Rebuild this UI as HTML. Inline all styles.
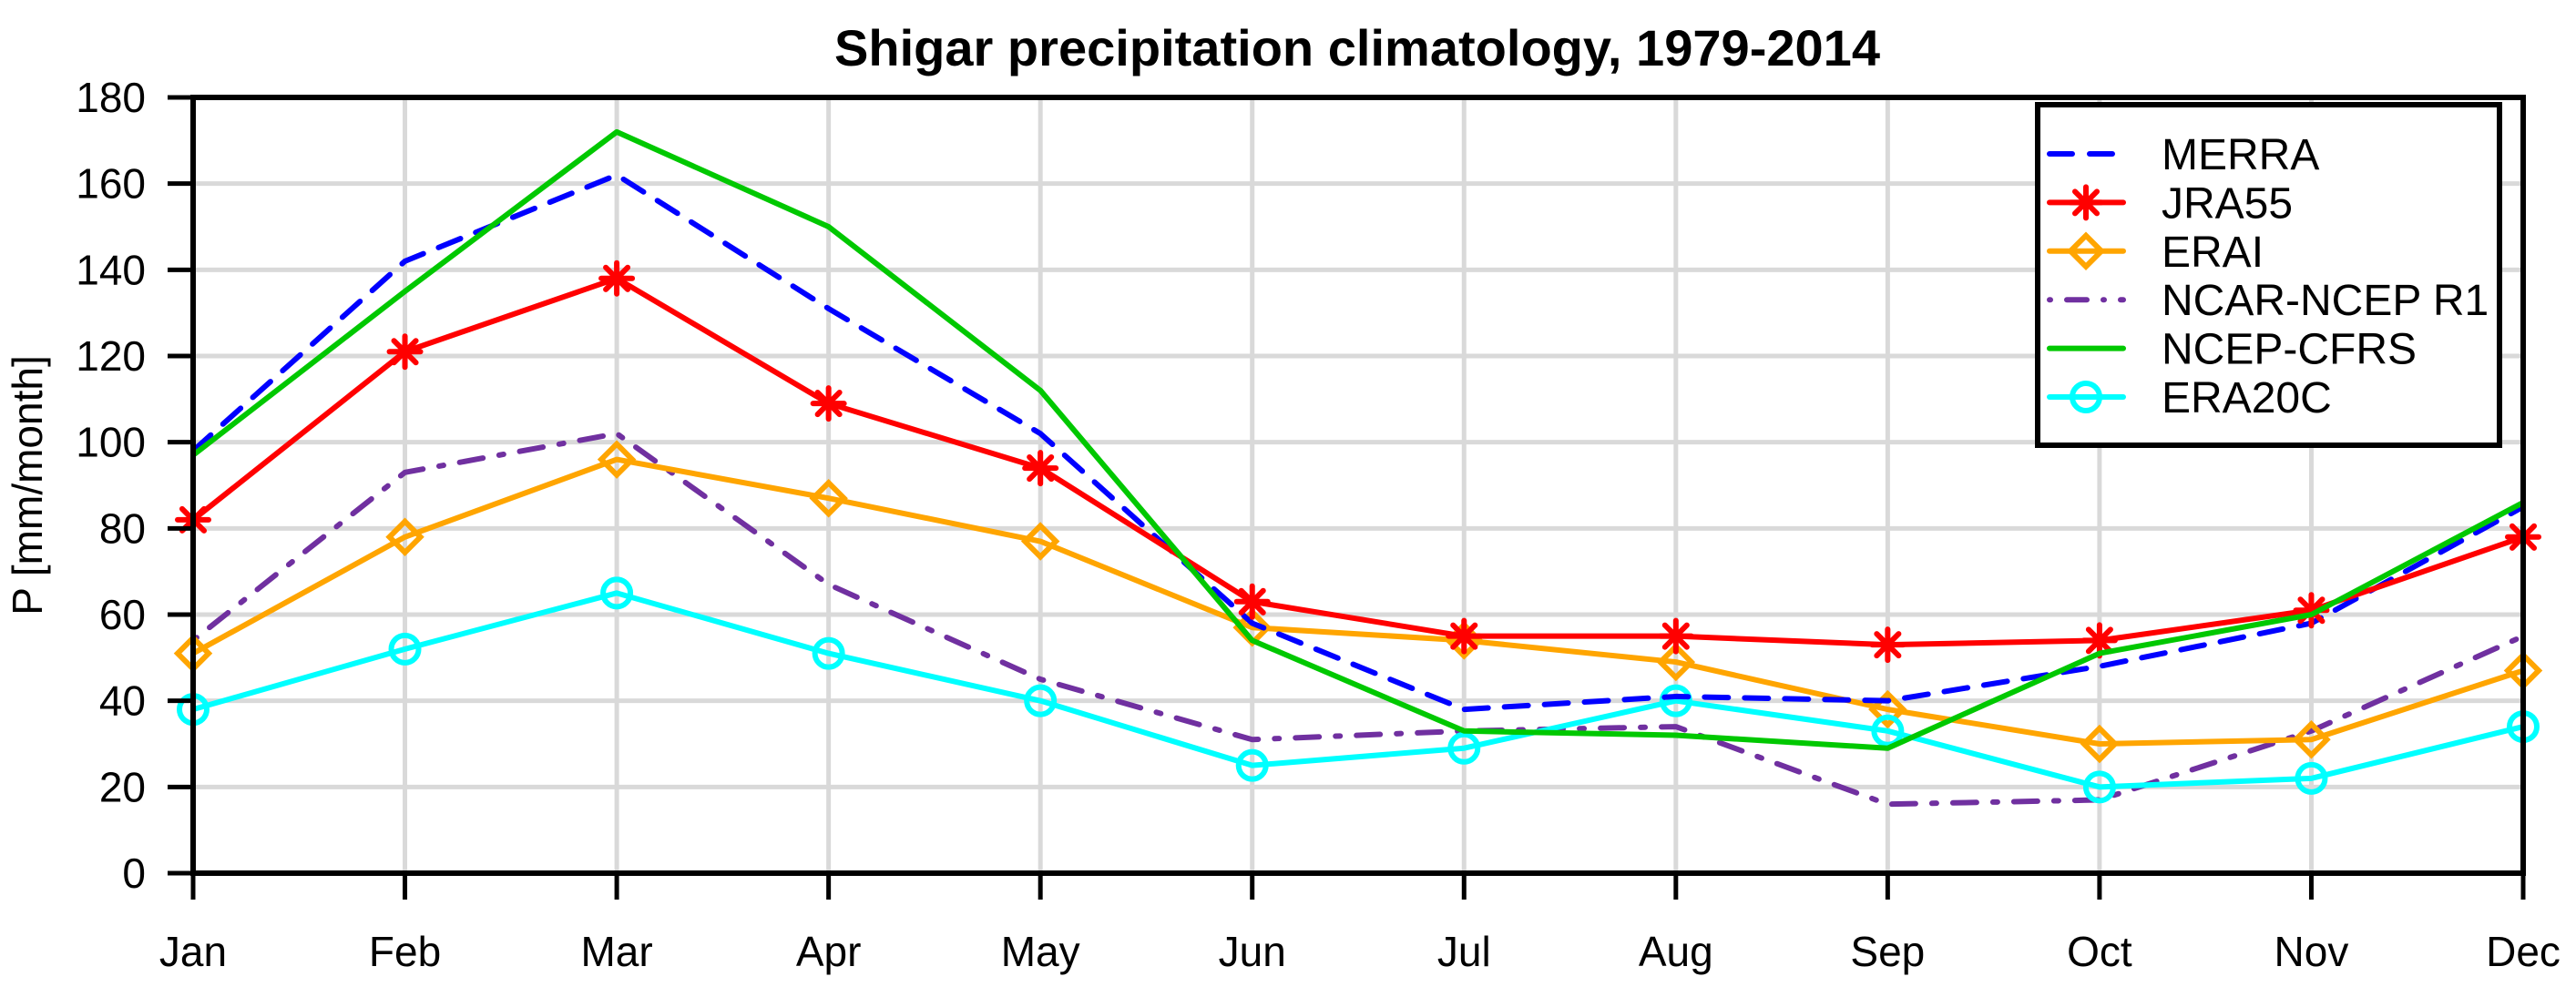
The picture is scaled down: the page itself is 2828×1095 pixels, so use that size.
<!DOCTYPE html>
<html><head><meta charset="utf-8"><style>
html,body{margin:0;padding:0;background:#fff;}
svg{display:block;font-family:"Liberation Sans",Arial,sans-serif;}
</style></head><body>
<svg id="chart" width="2828" height="1095" viewBox="0 0 2828 1095" xmlns="http://www.w3.org/2000/svg">
<rect width="2828" height="1095" fill="#fff"/>
<text x="916" y="72" font-size="56" font-weight="bold" textLength="1148" lengthAdjust="spacingAndGlyphs">Shigar precipitation climatology, 1979-2014</text>
<text transform="translate(46,533) rotate(-90)" text-anchor="middle" font-size="46">P [mm/month]</text>
<g id="grid"></g><g id="series"></g><g id="axes"></g><g id="legend"></g>
</svg>
<script>
const months = ["Jan","Feb","Mar","Apr","May","Jun","Jul","Aug","Sep","Oct","Nov","Dec"];
const yTicks = [0,20,40,60,80,100,120,140,160,180];
const merra  = [98,142,162,131,102,58,38,41,40,48,58,85];
const jra55  = [82,121,138,109,94,63,55,55,53,54,61,78];
const erai   = [51,78,96,87,77,57,54,49,38,30,31,47];
const ncar   = [54,93,102,67,45,31,33,34,16,17,33,55];
const cfrs   = [97,135,172,150,112,54,33,32,29,51,60,86];
const era20c = [38,52,65,51,40,25,29,40,33,20,22,34];
const seriesNames = ["MERRA","JRA55","ERAI","NCAR-NCEP R1","NCEP-CFRS","ERA20C"];

const NS="http://www.w3.org/2000/svg";
const X0=212,X1=2770,Y0=959,Y1=107,YMAX=180;
function xs(i){return X0+(X1-X0)*i/(months.length-1);}
function ys(v){return Y0-(Y0-Y1)*v/YMAX;}
function mk(tag,attrs,parent){const e=document.createElementNS(NS,tag);for(const k in attrs)e.setAttribute(k,attrs[k]);parent.appendChild(e);return e;}
const grid=document.getElementById('grid'),axes=document.getElementById('axes'),ser=document.getElementById('series'),leg=document.getElementById('legend');

months.forEach((m,i)=>{
  const g=mk('line',{x1:xs(i),x2:xs(i),y1:Y1,y2:Y0,stroke:'#d9d9d9','stroke-width':5},grid);
  
  
  const t=mk('line',{x1:xs(i),x2:xs(i),y1:Y0,y2:988,stroke:'#000','stroke-width':5},axes);
  
  
  const l=mk('text',{x:xs(i),y:1061,'text-anchor':'middle','font-size':46},axes);
  l.textContent=m;
  
  
});
yTicks.forEach(v=>{
  const g=mk('line',{x1:X0,x2:X1,y1:ys(v),y2:ys(v),stroke:'#d9d9d9','stroke-width':5},grid);
  
  
  const t=mk('line',{x1:184,x2:X0,y1:ys(v),y2:ys(v),stroke:'#000','stroke-width':5},axes);
  
  
  const l=mk('text',{x:160,y:ys(v)+16,'text-anchor':'end','font-size':46},axes);
  l.textContent=v;
  
  
});
const frame=mk('path',{d:`M${X0},${Y1} L${X0},${Y0} L${X1},${Y0} L${X1},${Y1} Z`,fill:'none',stroke:'#000','stroke-width':6},axes);



function marker(type,color,x,y,parent){
  if(type==='star'){
    const g=mk('g',{stroke:color,'stroke-width':6,'stroke-linecap':'round'},parent);
    for(let a=0;a<4;a++){const ang=a*Math.PI/4;const dx=17*Math.cos(ang),dy=17*Math.sin(ang);
      mk('line',{x1:x-dx,y1:y-dy,x2:x+dx,y2:y+dy},g);}
    return g;
  } else if(type==='diamond'){
    return mk('path',{d:`M${x},${y-17} L${x+17},${y} L${x},${y+17} L${x-17},${y} Z`,fill:'none',stroke:color,'stroke-width':6},parent);
  } else if(type==='circle'){
    return mk('circle',{cx:x,cy:y,r:15,fill:'none',stroke:color,'stroke-width':6},parent);
  }
}
const specs=[
  {data:merra,color:'#0000ff',dash:'26 18',marker:null,key:'merra'},
  {data:jra55,color:'#ff0000',dash:null,marker:'star',key:'jra55'},
  {data:erai,color:'#ffa500',dash:null,marker:'diamond',key:'erai'},
  {data:ncar,color:'#7030a0',dash:'5 18 26 18',marker:null,key:'ncar-ncep-r1'},
  {data:cfrs,color:'#00c800',dash:null,marker:null,key:'ncep-cfrs'},
  {data:era20c,color:'#00ffff',dash:null,marker:'circle',key:'era20c'}
];
const order=[3,2,5,0,1,4];
order.forEach(si=>{
  const s=specs[si];
  const g=mk('g',{},ser);
  
  
  const pts=s.data.map((v,i)=>xs(i)+','+ys(v)).join(' ');
  const a={points:pts,fill:'none',stroke:s.color,'stroke-width':6,'stroke-linejoin':'round'};
  if(s.dash){a['stroke-dasharray']=s.dash;a['stroke-linecap']='round';}
  const pl=mk('polyline',a,g);
  
  
  if(s.marker){s.data.forEach((v,i)=>{
    const m=marker(s.marker,s.color,xs(i),ys(v),g);
    
    
  });}
});

const lb=mk('rect',{x:2237,y:115,width:507,height:374,fill:'#fff',stroke:'#000','stroke-width':6},leg);


specs.forEach((s,i)=>{
  const y=169+i*53.4;
  const g=mk('g',{},leg);
  
  
  const a={x1:2250,x2:2331,y1:y,y2:y,stroke:s.color,'stroke-width':6,'stroke-linecap':'round'};
  if(s.dash)a['stroke-dasharray']=s.key==='merra'?'25 19':'1 18 22 18';
  mk('line',a,g);
  if(s.marker)marker(s.marker,s.color,2290,y,g);
  const t=mk('text',{x:2373,y:y+17,'font-size':48},g);
  t.textContent=seriesNames[i];
});
</script>
</body></html>
